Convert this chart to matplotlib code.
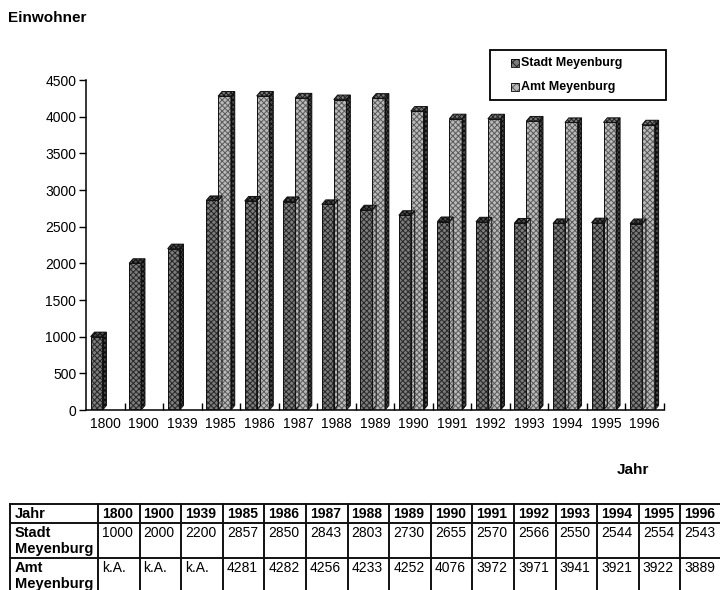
import numpy as np
import matplotlib.pyplot as plt
from matplotlib.patches import Polygon, Rectangle

plt.rcParams['font.family'] = ['Liberation Sans', 'DejaVu Sans']
plt.rcParams['hatch.linewidth'] = 0.7

# Einwohnerzahlen
jahre = ['1800', '1900', '1939', '1985', '1986', '1987', '1988', '1989',
         '1990', '1991', '1992', '1993', '1994', '1995', '1996']
stadt = [1000, 2000, 2200, 2857, 2850, 2843, 2803, 2730, 2655, 2570,
         2566, 2550, 2544, 2554, 2543]
amt = [None, None, None, 4281, 4282, 4256, 4233, 4252, 4076, 3972,
       3971, 3941, 3921, 3922, 3889]
serien = ['Stadt Meyenburg', 'Amt Meyenburg']

# Flaechen und Schraffuren der beiden Reihen (Front, Seite, Deckel)
stil = {
    'Stadt Meyenburg': dict(front=('#7c7c7c', '#262626'), side=('#444444', '#0c0c0c'),
                            top=('#4a4a4a', '#0e0e0e'), x0=-0.38, x1=-0.07),
    'Amt Meyenburg': dict(front=('#bababa', '#5a5a5a'), side=('#4a4a4a', '#0e0e0e'),
                          top=('#7a7a7a', '#202020'), x0=-0.07, x1=0.26),
}
DX, DY = 0.1, 62  # Tiefe der 3D-Saeulen in Datenkoordinaten


def flaeche(ax, pts, farben, hatch='xxxxxx'):
    fc, hc = farben
    ax.add_patch(Polygon(pts, closed=True, facecolor=fc, edgecolor=hc,
                         hatch=hatch, lw=0, zorder=2))
    ax.add_patch(Polygon(pts, closed=True, fill=False, edgecolor='#111111',
                         lw=0.7, zorder=3))


def saeule(ax, x, h, s):
    a, b = x + s['x0'], x + s['x1']
    flaeche(ax, [(a, 0), (b, 0), (b, h), (a, h)], s['front'])
    flaeche(ax, [(b, 0), (b + DX, DY), (b + DX, h + DY), (b, h)], s['side'], 'xxxxxxx')
    flaeche(ax, [(a, h), (b, h), (b + DX, h + DY), (a + DX, h + DY)], s['top'], 'xxxxxxx')


fig = plt.figure(figsize=(7.2, 5.9), dpi=100)
ax = fig.add_axes([86 / 720, 180 / 590, 578 / 720, 330 / 590])

for i in range(len(jahre)):
    saeule(ax, i, stadt[i], stil['Stadt Meyenburg'])
    if amt[i] is not None:
        saeule(ax, i, amt[i], stil['Amt Meyenburg'])

ax.set_xlim(-0.5, len(jahre) - 0.5)
ax.set_ylim(0, 4500)
ax.set_yticks(np.arange(0, 4501, 500))
ax.set_xticks(np.arange(len(jahre)))
ax.set_xticklabels(jahre)
ax.set_xticks(np.arange(len(jahre)) + 0.5, minor=True)
ax.tick_params(axis='x', which='major', length=0, labelsize=10, pad=5)
ax.tick_params(axis='x', which='minor', direction='in', length=5, width=1)
ax.tick_params(axis='y', direction='out', length=5, width=1, labelsize=10, pad=2)
for sp in ['top', 'right']:
    ax.spines[sp].set_visible(False)
for sp in ['left', 'bottom']:
    ax.spines[sp].set_linewidth(1.1)
ax.patch.set_alpha(0)

# Ueberlagerung in Pixelkoordinaten fuer Texte, Legende und Tabelle
ov = fig.add_axes([0, 0, 1, 1], zorder=-1)
ov.set_xlim(0, 720)
ov.set_ylim(590, 0)
ov.axis('off')

ov.text(8, 18, 'Einwohner', fontsize=11, fontweight='bold', va='center')
ov.text(617, 470, 'Jahr', fontsize=11, fontweight='bold', va='center')

# Legende
ov.add_patch(Rectangle((490, 50), 176, 50, fill=False, edgecolor='black', lw=1.3))
for k, name in enumerate(serien):
    y = 63 + 24 * k
    fc, hc = stil[name]['front']
    ov.add_patch(Rectangle((511, y - 4), 8, 8, facecolor=fc, edgecolor=hc,
                           hatch='xxxx', lw=0))
    ov.add_patch(Rectangle((511, y - 4), 8, 8, fill=False, edgecolor='black', lw=0.6))
    ov.text(521, y, name, fontsize=9, fontweight='bold', va='center')

# Tabelle
links, spalte0, breite = 10, 98, 41.6
zeilen = [504, 523, 558, 600]
rechts = spalte0 + breite * len(jahre)
for y in zeilen[:3]:
    ov.plot([links, rechts], [y, y], color='#111111', lw=1.4)
for xv in [links, spalte0] + [spalte0 + breite * (k + 1) for k in range(len(jahre))]:
    ov.plot([xv, xv], [zeilen[0], zeilen[-1]], color='#111111', lw=1.4)

ov.text(links + 5, 514, 'Jahr', fontsize=10.5, fontweight='bold', va='center')
ov.text(links + 5, 541, 'Stadt\nMeyenburg', fontsize=10.5, fontweight='bold',
        va='center', linespacing=1.2)
ov.text(links + 5, 576, 'Amt\nMeyenburg', fontsize=10.5, fontweight='bold',
        va='center', linespacing=1.2)
for k, j in enumerate(jahre):
    x = spalte0 + breite * k + 4
    ov.text(x, 514, j, fontsize=10, fontweight='bold', va='center')
    ov.text(x, 533, str(stadt[k]), fontsize=10, va='center')
    ov.text(x, 568, 'k.A.' if amt[k] is None else str(amt[k]), fontsize=10, va='center')

fig.savefig('out.png', dpi=100)
